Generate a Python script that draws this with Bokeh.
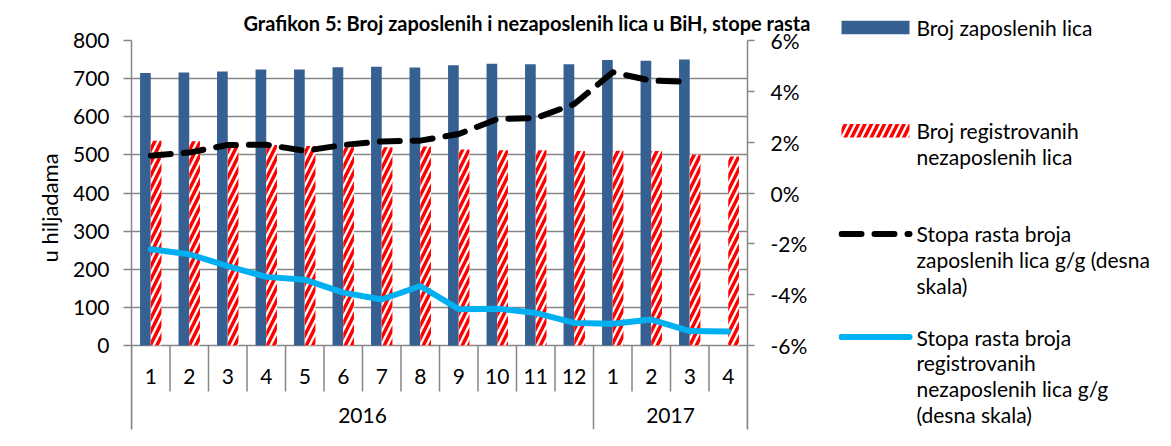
import math
from bokeh.plotting import figure
from bokeh.layouts import row
from bokeh.models import (ColumnDataSource, FactorRange, Range1d, LinearAxis, FixedTicker,
                          PrintfTickFormatter, Grid, Title, Plot)
from bokeh.transform import dodge
from bokeh.core.properties import value
from bokeh.embed import file_html
from bokeh.resources import INLINE

# ---------------- data ----------------
TITLE = "Grafikon 5: Broj zaposlenih i nezaposlenih lica u BiH, stope rasta"
Y_LABEL = "u hiljadama"
years = ["2016", "2016", "2016", "2016", "2016", "2016", "2016", "2016", "2016", "2016", "2016", "2016",
         "2017", "2017", "2017", "2017"]
months = ["1", "2", "3", "4", "5", "6", "7", "8", "9", "10", "11", "12", "1", "2", "3", "4"]
year_labels = ["2016", "2017"]
employed = [715, 716, 719, 724, 724, 730, 731, 729, 735, 739, 738, 738, 749, 747, 750]
unemployed = [537, 536, 530, 526, 523, 520, 520, 522, 514, 512, 512, 510, 511, 510, 501, 496]
emp_growth = [1.47, 1.59, 1.89, 1.90, 1.66, 1.89, 2.03, 2.06, 2.32, 2.91, 2.95, 3.50, 4.75, 4.42, 4.38]
unemp_growth = [-2.21, -2.41, -2.88, -3.30, -3.41, -3.92, -4.19, -3.66, -4.57, -4.55, -4.72, -5.11,
                -5.14, -4.98, -5.43, -5.45]
left_ticks = [0, 100, 200, 300, 400, 500, 600, 700, 800]
right_ticks = [-6, -4, -2, 0, 2, 4, 6]
legend_lines = [
    ["Broj zaposlenih lica"],
    ["Broj registrovanih", "nezaposlenih lica"],
    ["Stopa rasta broja", "zaposlenih lica g/g (desna", "skala)"],
    ["Stopa rasta broja", "registrovanih", "nezaposlenih lica g/g", "(desna skala)"],
]

# ---------------- layout / style ----------------
W, H = 1155, 430
WM = 838                                      # width of the chart part; legend panel fills the rest
FL, FR, FT, FZ, FB = 131, 747, 40, 345, 429   # frame left/right/top, zero line, frame bottom (px)
FONT, FS = "Lato", "21px"
GRAY, BLUE, RED, CYAN = "#868686", "#376092", "#FF0000", "#00B0F0"
BW = 0.278
SEP_SHORT = 46
MONTH_DY, YEAR_DY = 31, 70
HATCH = dict(hatch_pattern="/", hatch_color=RED, hatch_scale=13, hatch_weight=3.5)
DASH = dict(line_color="black", line_width=6, line_dash="20 13", line_cap="round", line_join="round")
SOLID = dict(line_color=CYAN, line_width=6, line_cap="round", line_join="round")

factors = list(zip(years, months))
y_top = left_ticks[-1]
y_bot = -(FB - FZ) * y_top / (FZ - FT)
p_top, p_low = right_ticks[-1], right_ticks[0]
p_bot = p_low - (FB - FZ) * (p_top - p_low) / (FZ - FT)

p = figure(width=WM, height=H,
           x_range=FactorRange(factors=factors, factor_padding=0, group_padding=0, range_padding=0),
           y_range=Range1d(y_bot, y_top), x_axis_location=None, y_axis_location=None,
           output_backend="svg", toolbar_location=None,
           min_border_left=FL, min_border_right=WM - FR, min_border_top=FT, min_border_bottom=H - FB)
p.grid.visible = False
p.outline_line_color = None
p.background_fill_color = "white"
p.border_fill_color = "white"
p.extra_y_ranges = {"pct": Range1d(p_bot, p_top)}

p.title.text = TITLE
p.title.align = "left"
p.title.offset = 243 - FL
p.title.standoff = 12
p.title.text_font = FONT
p.title.text_font_size = "20px"
p.title.text_font_style = "bold"
p.title.text_color = "black"

def style_axis(ax, tick_out, standoff):
    ax.axis_line_color = GRAY
    ax.axis_line_width = 1.5
    ax.major_tick_line_color = GRAY
    ax.major_tick_line_width = 1.5
    ax.major_tick_out = tick_out
    ax.major_tick_in = 0
    ax.minor_tick_out = 0
    ax.minor_tick_in = 0
    ax.major_label_standoff = standoff
    ax.major_label_text_font = FONT
    ax.major_label_text_font_size = FS
    ax.major_label_text_color = "black"

left_axis = LinearAxis(ticker=FixedTicker(ticks=left_ticks))
style_axis(left_axis, 8, 14)
p.add_layout(left_axis, "left")
p.add_layout(Title(text=Y_LABEL, align="left", offset=FB - 262, standoff=14,
                   text_font=FONT, text_font_size="22px", text_font_style="normal",
                   text_color="black"), "left")
right_axis = LinearAxis(y_range_name="pct", ticker=FixedTicker(ticks=right_ticks),
                        formatter=PrintfTickFormatter(format="%d%%"))
style_axis(right_axis, 7, 16)
p.add_layout(right_axis, "right")
p.add_layout(Grid(dimension=1, ticker=FixedTicker(ticks=left_ticks),
                  grid_line_color=GRAY, grid_line_width=1.5), "center")

src_u = ColumnDataSource(dict(x=factors, value=unemployed, growth=unemp_growth, month=months))
src_e = ColumnDataSource(dict(x=factors[:len(employed)], value=employed, growth=emp_growth))
src_y = ColumnDataSource(dict(x=year_labels, text=year_labels))

# category table separators
first_idx = [i for i in range(len(factors)) if i == 0 or years[i] != years[i - 1]]
short_x = [factors[i] + (-0.5,) for i in range(len(factors)) if i not in first_idx]
long_x = [factors[i] + (-0.5,) for i in first_idx] + [factors[-1] + (0.5,)]
p.ray(x=short_x, y=0, length=SEP_SHORT, length_units="screen", angle=-math.pi / 2,
      line_color=GRAY, line_width=1.5)
p.ray(x=long_x, y=0, length=FB - FZ, length_units="screen", angle=-math.pi / 2,
      line_color=GRAY, line_width=1.5)

p.vbar(x=dodge("x", -BW / 2, range=p.x_range), top="value", bottom=0, width=BW, source=src_e,
       fill_color=BLUE, line_color=None)
p.vbar(x=dodge("x", BW / 2, range=p.x_range), top="value", bottom=0, width=BW, source=src_u,
       fill_color="white", line_color=None, **HATCH)
p.line(x="x", y="growth", source=src_e, y_range_name="pct", **DASH)
p.line(x="x", y="growth", source=src_u, y_range_name="pct", **SOLID)

p.text(x="x", y=0, text="month", source=src_u, y_offset=MONTH_DY, text_align="center",
       text_baseline="middle", text_font=value(FONT), text_font_size=value(FS), text_color="black")
p.text(x="x", y=0, text="text", source=src_y, y_offset=YEAR_DY, text_align="center",
       text_baseline="middle", text_font=value(FONT), text_font_size=value(FS), text_color="black")

# ---------------- legend panel (pixel coordinates, y downwards) ----------------
lg = figure(width=W - WM, height=H, x_range=Range1d(WM, W),
            x_axis_location=None, y_axis_location=None, output_backend="svg", toolbar_location=None,
            min_border_left=0, min_border_right=0, min_border_top=0, min_border_bottom=0)
lg.title = None
lg.grid.visible = False
lg.outline_line_color = None
lg.background_fill_color = "white"
lg.border_fill_color = "white"

if "frame_align" in Plot.properties():
    # let the legend panel use its whole height instead of the chart's frame rows
    p.frame_align = False
    lg.frame_align = False
    lg.y_range = Range1d(H, 0)
    ROW0, ROW_H = 27, 25.8
else:
    lg.y_range = Range1d(FB, FT)
    ROW0, ROW_H = 52, 24.2
ROWS_PER_ENTRY = 4
GX0, GX1, SW_H, TX = 841, 909, 13.4, 916

entry_y = [ROW0 + ROWS_PER_ENTRY * ROW_H * i for i in range(len(legend_lines))]
lg.quad(left=[GX0], right=[GX1], top=[entry_y[0] - SW_H / 2], bottom=[entry_y[0] + SW_H / 2],
        fill_color=BLUE, line_color=None)
lg.quad(left=[GX0], right=[GX1], top=[entry_y[1] - SW_H / 2], bottom=[entry_y[1] + SW_H / 2],
        fill_color="white", line_color=None, **HATCH)
lg.line(x=[GX0, GX1], y=[entry_y[2], entry_y[2]], **DASH)
lg.line(x=[GX0, GX1], y=[entry_y[3], entry_y[3]], **SOLID)

txt, ty = [], []
for i, lines in enumerate(legend_lines):
    for j, t in enumerate(lines):
        txt.append(t)
        ty.append(entry_y[i] + j * ROW_H)
lg.text(x=[TX] * len(txt), y=ty, text=txt, text_align="left", text_baseline="middle",
        text_font=value(FONT), text_font_size=value("21px"), text_color="black")

open("out.html", "w").write(file_html(row(p, lg), INLINE))
